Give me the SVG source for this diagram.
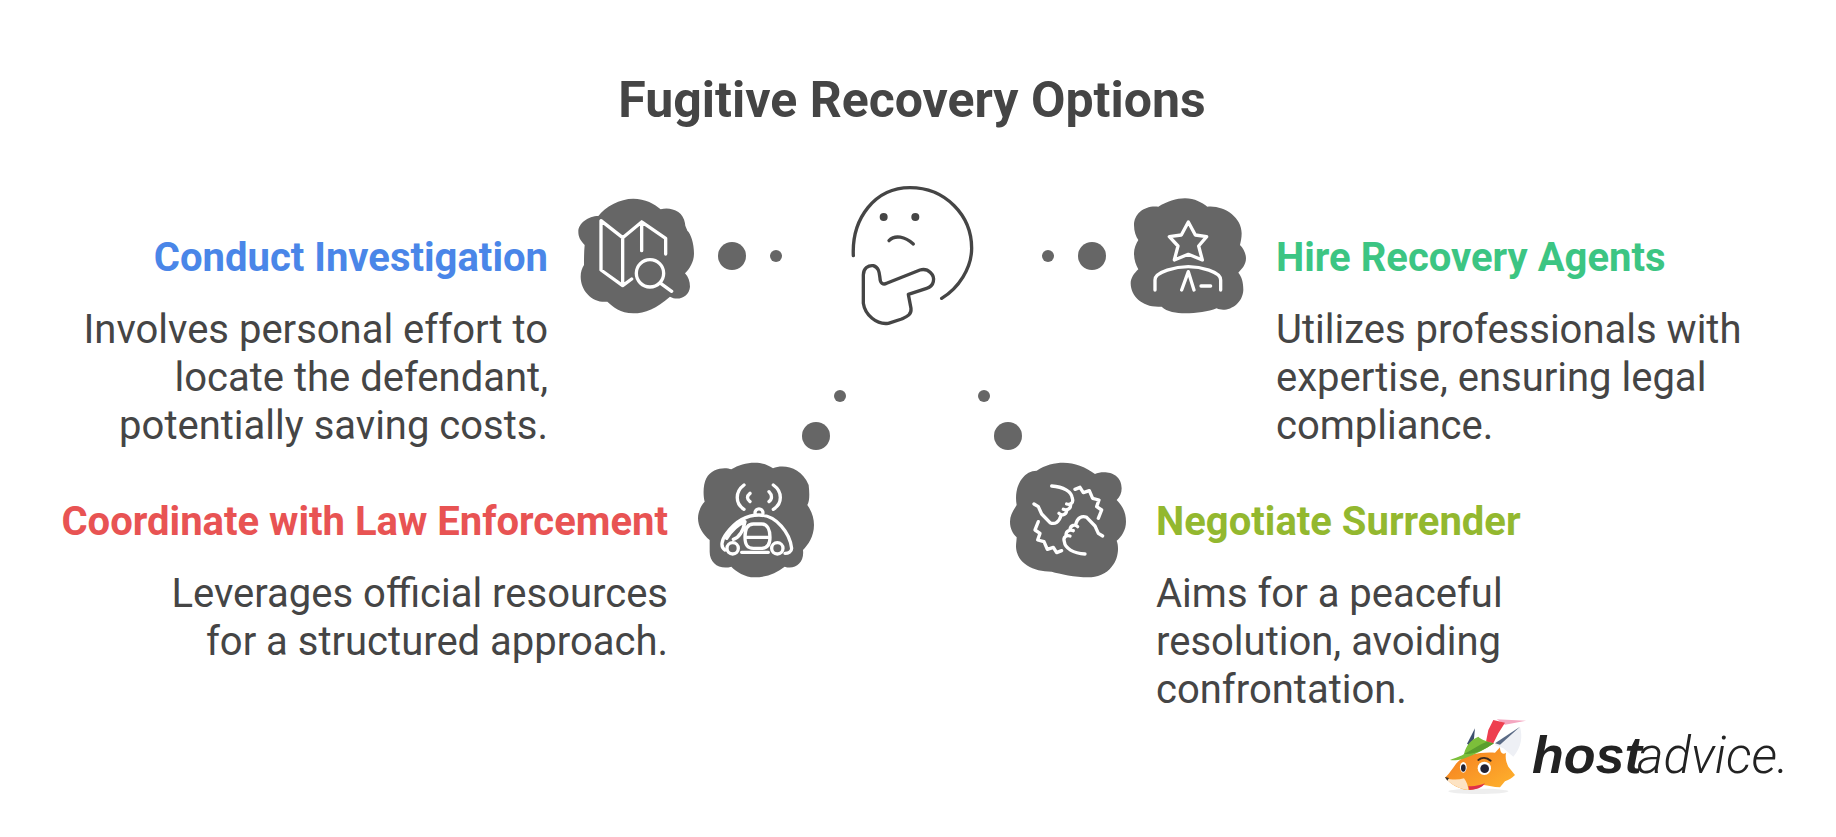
<svg xmlns="http://www.w3.org/2000/svg" width="1836" height="837" viewBox="0 0 1836 837">
<style>
text{font-family:Roboto,"Liberation Sans",sans-serif;fill:#454545}
.t{font-size:50px;font-weight:700}
.h{font-size:40px;font-weight:700}
.b{font-size:40px;font-weight:400}
.e{text-anchor:end}
.blob{fill:#666}
.ic{fill:none;stroke:#fff;stroke-width:10;stroke-linecap:round;stroke-linejoin:round}
.dot{fill:#666}
.face{fill:none;stroke:#454545;stroke-width:10;stroke-linecap:round;stroke-linejoin:round}
</style>
<defs>
<linearGradient id="fur" x1="0" y1="0" x2="1" y2="1"><stop offset="0" stop-color="#f47a1f"/><stop offset="1" stop-color="#ffb52e"/></linearGradient>
<path id="hs" d="M155 108C190 110 215 125 217 145C222 160 210 165 200 162M212 165C212 178 200 182 190 178M200 182C198 195 185 198 177 190M183 197C178 215 165 225 150 218L125 192L115 170L102 162M225 118L240 112L250 128L268 122L278 145L297 150L290 170L305 180L295 205"/>
</defs>
<rect width="1836" height="837" fill="#fff"/>
<text id="title" class="t" x="912" y="117" text-anchor="middle">Fugitive Recovery Options</text>
<g id="connectors">
<circle class="dot" cx="732" cy="256" r="14"/><circle class="dot" cx="776" cy="256" r="6"/>
<circle class="dot" cx="1048" cy="256" r="6"/><circle class="dot" cx="1092" cy="256" r="14"/>
<circle class="dot" cx="840" cy="396" r="6"/><circle class="dot" cx="816" cy="436" r="14"/>
<circle class="dot" cx="984" cy="396" r="6"/><circle class="dot" cx="1008" cy="436" r="14"/>
</g>
<g id="center" transform="translate(830 175) scale(.3333)">
<path class="face" d="M70 242C65 130 135 38 240 38C345 38 425 120 425 220C425 280 385 340 335 370"/>
<path class="face" d="M177 197C195 178 225 185 250 207"/>
<path class="face" d="M100 300C100 280 115 270 130 272C148 278 148 295 150 310C150 325 160 330 170 325L270 285C295 278 315 300 310 320C308 330 300 337 290 340L235 358L243 400C245 420 230 425 215 432L175 445C140 450 105 420 100 385Z"/>
<circle cx="161" cy="126" r="12" fill="#454545"/><circle cx="256" cy="126" r="12" fill="#454545"/>
</g>
<g id="node-investigation">
<g transform="translate(570 190) scale(.3333)">
<path class="blob" d="M85 78C105 50 150 26 190 26C225 26 255 42 272 58C300 50 340 62 345 100C345 110 350 115 352 122C362 130 372 160 372 190C372 215 360 235 345 250C355 260 360 275 360 290C358 320 325 335 300 320C260 355 225 370 190 370C150 370 130 350 112 335C70 340 32 305 32 260C32 245 36 235 42 225C42 205 42 185 44 165C30 150 25 140 25 125C25 100 55 78 85 78Z"/>
<path class="ic" d="M215 182V96L158 143L93 92V240L158 287L185 267M158 143V287M215 96L287 145V192M272 280L305 304"/>
<circle class="ic" cx="240" cy="250" r="41"/>
</g>
<text class="h e" x="548" y="271" style="fill:#4a86e8">Conduct Investigation</text>
<text class="b e" x="548" y="343">Involves personal effort to</text>
<text class="b e" x="548" y="391">locate the defendant,</text>
<text class="b e" x="548" y="439">potentially saving costs.</text>
</g>
<g id="node-agents">
<g transform="translate(1120 180) scale(.3333)">
<path class="blob" d="M115 80C140 65 170 55 195 55C225 55 245 68 262 80C310 75 365 110 365 160C365 175 362 185 360 195C370 205 378 220 378 235C378 255 365 268 355 278C365 290 370 305 370 330C368 375 320 400 290 385C265 395 230 400 195 400C170 400 140 395 125 380C70 385 32 350 32 310C32 295 42 280 55 268C48 255 42 240 42 220C42 205 48 192 55 180C48 170 42 155 42 135C42 100 75 75 115 80Z"/>
<path class="ic" d="M205 126L226 165L260 170L236 198L247 240L205 223L163 240L174 198L148 170L184 165ZM105 330V300C105 275 170 260 205 260C240 260 302 275 302 300V330M185 330L205 275L222 330M243 318H272"/>
</g>
<text class="h" x="1276" y="271" style="fill:#3cc583">Hire Recovery Agents</text>
<text class="b" x="1276" y="343">Utilizes professionals with</text>
<text class="b" x="1276" y="391">expertise, ensuring legal</text>
<text class="b" x="1276" y="439">compliance.</text>
</g>
<g id="node-law">
<g transform="translate(688 450) scale(.3333)">
<path class="blob" d="M55 85C70 55 110 50 130 58C150 45 175 38 200 38C225 38 240 45 255 55C285 42 340 50 362 105C365 130 365 155 358 165C372 185 378 205 378 225C378 260 360 285 345 300C350 340 320 360 290 350C265 370 235 382 200 382C170 382 145 365 130 350C95 360 65 340 65 305C65 295 65 285 65 270C45 255 30 230 30 205C30 185 40 165 50 155C45 135 45 105 55 85Z"/>
</g>
<g transform="translate(690 450) scale(.3333)">
<path class="ic" d="M162 105C135 125 135 160 162 178M180 130C170 138 170 148 180 155M250 105C278 125 278 160 250 178M237 125C247 135 247 148 237 155M195 190C195 172 219 172 219 190M105 300C90 290 95 270 110 250C140 210 175 195 207 195C260 195 300 250 305 295C305 305 295 310 285 310M155 307H235M165 262H240M190 222H215C232 222 240 240 240 262C240 285 232 295 215 295H190C172 295 165 285 165 262C165 240 172 222 190 222ZM110 265C125 240 140 225 165 215C160 240 150 262 130 268"/>
<circle class="ic" cx="128" cy="295" r="17"/><circle class="ic" cx="262" cy="295" r="17"/>
</g>
<text class="h e" x="668" y="535" style="fill:#e85353">Coordinate with Law Enforcement</text>
<text class="b e" x="668" y="607">Leverages official resources</text>
<text class="b e" x="668" y="655">for a structured approach.</text>
</g>
<g id="node-surrender">
<g transform="translate(1000 450) scale(.3333)">
<path class="blob" d="M110 62C135 45 165 38 190 38C225 38 255 50 285 72C310 60 365 65 365 115C365 130 360 140 350 150C370 170 378 190 378 215C378 240 365 260 350 272C358 290 355 330 335 350C320 372 290 382 265 382C225 382 180 372 155 365C100 365 50 340 48 290C48 280 50 270 50 262C38 250 30 235 30 215C30 195 42 178 50 165C40 110 70 62 110 62Z"/>
<use href="#hs" class="ic"/>
<use href="#hs" class="ic" transform="rotate(180 205 210)"/>
</g>
<text class="h" x="1156" y="535" style="fill:#93b82f">Negotiate Surrender</text>
<text class="b" x="1156" y="607">Aims for a peaceful</text>
<text class="b" x="1156" y="655">resolution, avoiding</text>
<text class="b" x="1156" y="703">confrontation.</text>
</g>
<g id="logo">
<g transform="translate(1450 710) scale(.3333)">
<ellipse cx="85" cy="244" rx="90" ry="8" fill="#ddd" opacity=".5"/>
<path d="M140 28L228 32L165 44Z" fill="#f4a6c0"/>
<path d="M130 30L165 38L145 70L130 100L108 95L115 60Z" fill="#ee3f4f"/>
<path d="M75 55L52 100L60 118L72 85Z" fill="#3d4f6d"/>
<path d="M210 50C218 80 215 110 190 140L160 115L135 105Z" fill="#eef0f5"/>
<path d="M210 50L135 100L150 104Z" fill="#5a6a85"/>
<path d="M-15 203C5 185 15 160 30 150C50 135 90 125 135 128L150 112C150 130 160 135 168 128C165 145 170 160 175 170L195 195C185 205 175 210 165 214L150 232C130 232 115 226 100 225C85 235 70 240 55 240C30 238 5 225 -15 203Z" fill="url(#fur)"/>
<path d="M-15 204C5 210 25 210 42 205C50 215 55 230 55 240C30 238 5 225 -15 204Z" fill="#fde3c3"/>
<path d="M0 150C20 142 35 138 42 132C48 105 65 88 85 80C95 90 115 96 132 100C105 118 75 135 40 146C25 150 10 152 0 150Z" fill="#7cbf3a"/>
<path d="M42 132C65 120 85 105 110 95L132 100C105 118 75 135 42 132Z" fill="#5a9e2e"/>
<path d="M55 228C70 230 90 226 105 220C95 235 75 240 58 240Z" fill="#e0304a"/>
<path d="M-15 201L-3 204L-8 212Z" fill="#333"/>
<path d="M85 150C95 142 110 142 122 152" fill="none" stroke="#3a2a20" stroke-width="6" stroke-linecap="round"/>
<ellipse cx="40" cy="172" rx="10" ry="16" fill="#fff"/><ellipse cx="40" cy="174" rx="7" ry="11" fill="#223"/>
<circle cx="103" cy="175" r="20" fill="#fff"/><circle cx="104" cy="176" r="13" fill="#223"/>
</g>
<text x="1532" y="773" style="font-family:'Liberation Sans',sans-serif;font-size:52px;font-weight:700;font-style:italic;fill:#222">host</text>
<text x="1637" y="773" style="font-family:Roboto,sans-serif;font-size:51px;font-weight:300;font-style:italic;fill:#222">advice.</text>
</g>
</svg>
